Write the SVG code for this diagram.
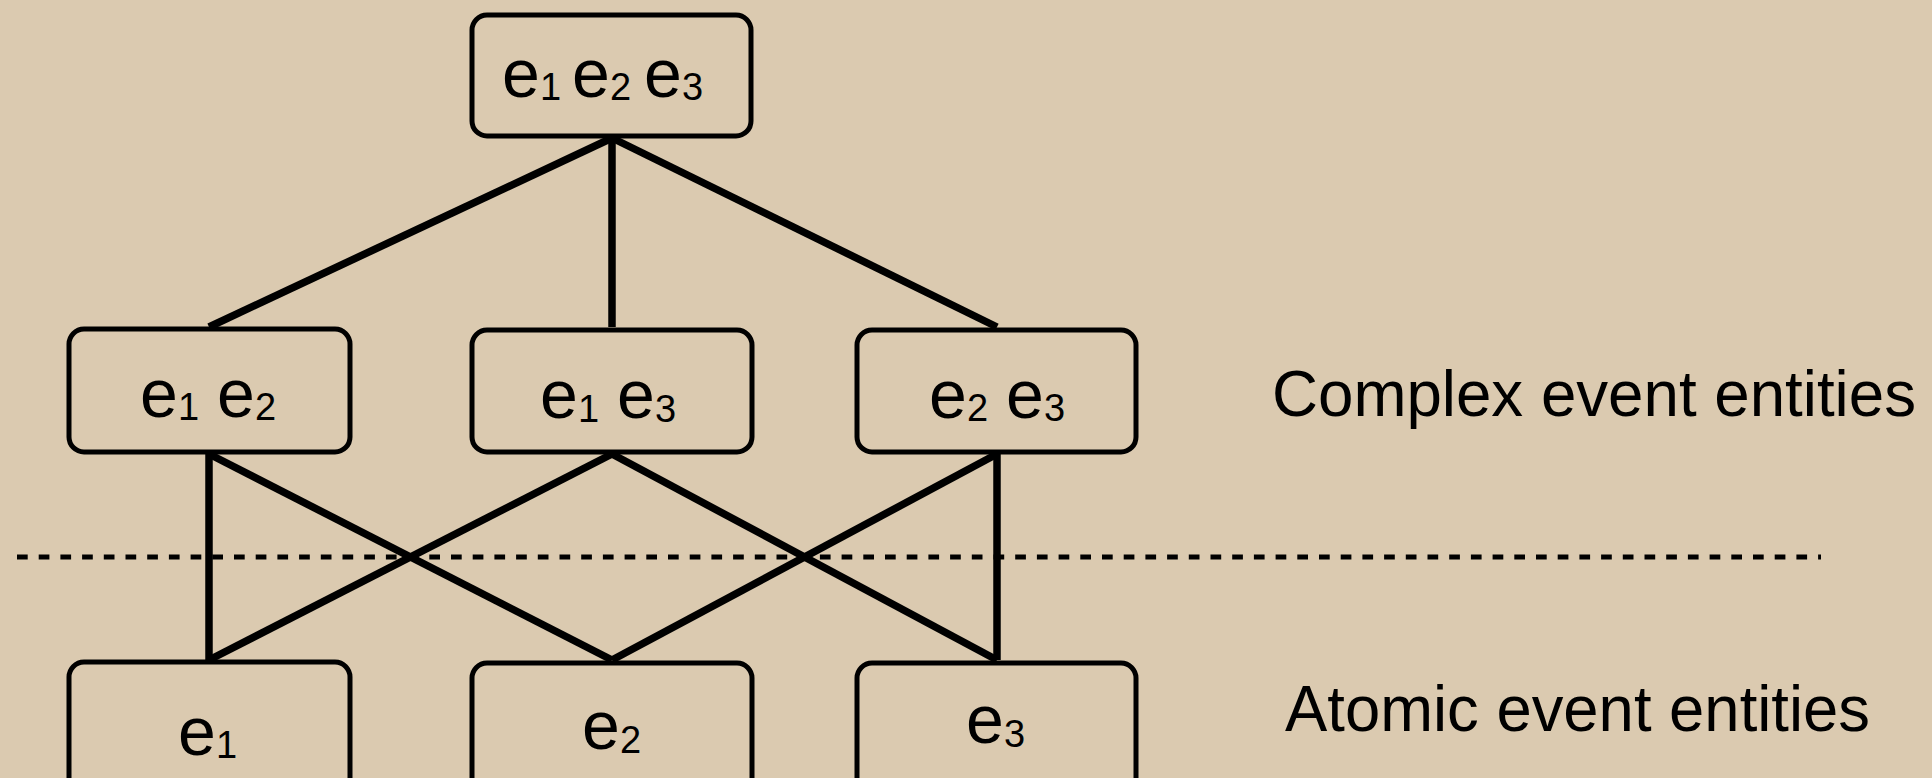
<svg xmlns="http://www.w3.org/2000/svg" width="1932" height="778" viewBox="0 0 1932 778">
<style>
.bg{fill:#dbcab0}
.node{fill:none;stroke:#000;stroke-width:5}
.edge{stroke:#000;stroke-width:7.5;stroke-linecap:butt}
.t{font-family:"Liberation Sans",Arial,Helvetica,sans-serif;font-size:68px;fill:#000}
.s{font-size:38px}
.lbl{font-family:"Liberation Sans",Arial,Helvetica,sans-serif;font-size:64px;fill:#000}
.dash{stroke:#000;stroke-width:5;stroke-dasharray:10.7 11}
</style>
<rect class="bg" x="0" y="0" width="1932" height="778"/>
<g id="connectors">
<line class="edge" x1="612" y1="138" x2="209" y2="327"/>
<line class="edge" x1="612" y1="138" x2="612" y2="327"/>
<line class="edge" x1="612" y1="138" x2="997" y2="327"/>
<line class="edge" x1="209" y1="454" x2="209" y2="660"/>
<line class="edge" x1="209" y1="454" x2="612" y2="660"/>
<line class="edge" x1="612" y1="454" x2="209" y2="660"/>
<line class="edge" x1="612" y1="454" x2="997" y2="660"/>
<line class="edge" x1="997" y1="454" x2="612" y2="660"/>
<line class="edge" x1="997" y1="454" x2="997" y2="660"/>
</g>
<line id="separator" class="dash" x1="17" y1="557" x2="1821" y2="557"/>
<g id="n123">
<rect class="node" x="472" y="15" width="279" height="121" rx="15"/>
<text class="t" y="97"><tspan x="502">e</tspan><tspan class="s" x="540" y="100">1</tspan><tspan x="572" y="97">e</tspan><tspan class="s" x="610" y="100">2</tspan><tspan x="644" y="97">e</tspan><tspan class="s" x="682" y="100">3</tspan></text>
</g>
<g id="n12">
<rect class="node" x="69" y="329" width="281" height="123" rx="15"/>
<text class="t" y="417"><tspan x="140">e</tspan><tspan class="s" x="178" y="420">1</tspan><tspan x="217" y="417">e</tspan><tspan class="s" x="255" y="420">2</tspan></text>
</g>
<g id="n13">
<rect class="node" x="472" y="330" width="280" height="122" rx="15"/>
<text class="t" y="418"><tspan x="540">e</tspan><tspan class="s" x="578" y="422">1</tspan><tspan x="617" y="418">e</tspan><tspan class="s" x="655" y="422">3</tspan></text>
</g>
<g id="n23">
<rect class="node" x="857" y="330" width="279" height="122" rx="15"/>
<text class="t" y="418"><tspan x="929">e</tspan><tspan class="s" x="967" y="421">2</tspan><tspan x="1006" y="418">e</tspan><tspan class="s" x="1044" y="421">3</tspan></text>
</g>
<g id="n1">
<rect class="node" x="69" y="662" width="281" height="140" rx="15"/>
<text class="t" y="755"><tspan x="178">e</tspan><tspan class="s" x="216" y="758">1</tspan></text>
</g>
<g id="n2">
<rect class="node" x="472" y="663" width="280" height="140" rx="15"/>
<text class="t" y="749"><tspan x="582">e</tspan><tspan class="s" x="620" y="753">2</tspan></text>
</g>
<g id="n3">
<rect class="node" x="857" y="663" width="279" height="140" rx="15"/>
<text class="t" y="743"><tspan x="966">e</tspan><tspan class="s" x="1004" y="747">3</tspan></text>
</g>
<g id="labels">
<text class="lbl" x="1272" y="416" textLength="644" lengthAdjust="spacingAndGlyphs">Complex event entities</text>
<text class="lbl" x="1285" y="731" textLength="585" lengthAdjust="spacingAndGlyphs">Atomic event entities</text>
</g>
</svg>
